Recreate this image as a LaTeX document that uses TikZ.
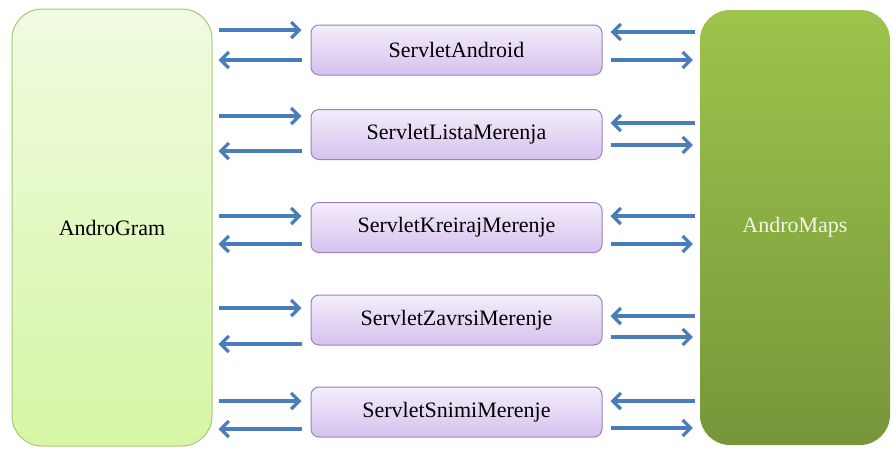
\documentclass[tikz,border=0pt]{standalone}
\usepackage{fontspec}
\setmainfont{Liberation Serif}
\usetikzlibrary{arrows.meta}
\definecolor{arrowblue}{HTML}{4A7EBB}
\definecolor{gramtop}{HTML}{F0FBE0}
\definecolor{grambot}{HTML}{D6F6A4}
\definecolor{gramedge}{HTML}{A9C67C}
\definecolor{mapstop}{HTML}{9DC44C}
\definecolor{mapsbot}{HTML}{77963A}
\definecolor{servtop}{HTML}{F4EEFB}
\definecolor{servbot}{HTML}{D5C1EE}
\definecolor{servedge}{HTML}{9C82BA}
\tikzset{
  x=1pt, y=-1pt,
  appbox/.style={rounded corners=30pt, minimum width=200pt, minimum height=437pt,
    inner sep=0pt, font=\fontsize{22}{26}\selectfont},
  servbox/.style={draw=servedge, line width=1pt, rounded corners=8pt,
    top color=servtop, bottom color=servbot, minimum width=291pt, minimum height=50pt,
    inner sep=0pt, font=\fontsize{22}{26}\selectfont},
  arr/.style={draw=arrowblue, line width=3.2pt,
    -{Straight Barb[length=8pt,width=16pt,line width=3.2pt]}},
}
\begin{document}
\begin{tikzpicture}
\useasboundingbox (0,0) rectangle (892,448);
\fill[white] (0,0) rectangle (892,448);
% client applications
\node[appbox, draw=gramedge, line width=1pt, top color=gramtop, bottom color=grambot]
  (ag) at (112,227.5) {AndroGram};
\node[appbox, minimum width=190pt, minimum height=435pt, top color=mapstop,
  bottom color=mapsbot, text={rgb,255:red,244;green,247;blue,226}]
  (am) at (795,227.5) {AndroMaps};
% servlets
\node[servbox] (s1) at (456.5,50)    {ServletAndroid};
\node[servbox] (s2) at (456.5,134.5) {ServletListaMerenja};
\node[servbox] (s3) at (456.5,227.5) {ServletKreirajMerenje};
\node[servbox] (s4) at (456.5,320)   {ServletZavrsiMerenje};
\node[servbox] (s5) at (456.5,412)   {ServletSnimiMerenje};
% AndroGram <-> servlets
\foreach \s/\ya/\yb in {s1/30/60, s2/116/151, s3/216/244, s4/308/344, s5/401/429}{
  \draw[arr, shorten <=6pt, shorten >=9pt] (ag.east |- 0,\ya) -- (\s.west |- 0,\ya);
  \draw[arr, shorten <=9pt, shorten >=6pt] (\s.west |- 0,\yb) -- (ag.east |- 0,\yb);
}
% servlets <-> AndroMaps
\foreach \s/\ya/\yb in {s1/32/60, s2/123/145, s3/216/244, s4/316/337, s5/401/428}{
  \draw[arr, shorten <=5pt, shorten >=8pt] (am.west |- 0,\ya) -- (\s.east |- 0,\ya);
  \draw[arr, shorten <=8pt, shorten >=7pt] (\s.east |- 0,\yb) -- (am.west |- 0,\yb);
}
\end{tikzpicture}
\end{document}
